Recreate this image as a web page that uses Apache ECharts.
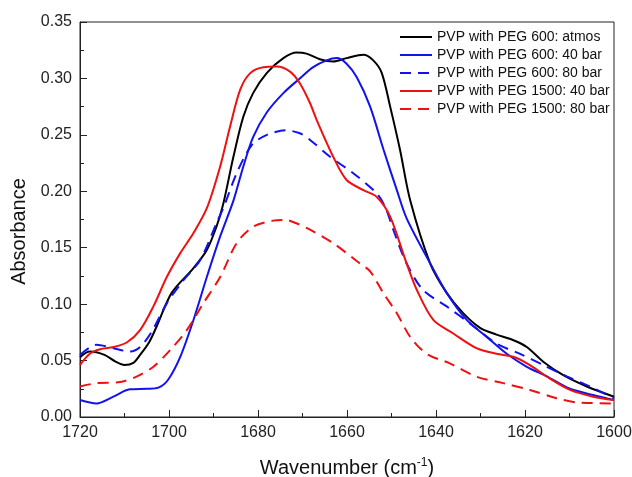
<!DOCTYPE html>
<html>
<head>
<meta charset="utf-8">
<script src="https://cdn.jsdelivr.net/npm/echarts@6/dist/echarts.min.js"></script>
<style>html,body{margin:0;padding:0;background:#fff}#c{width:632px;height:477px}</style>
</head>
<body>
<div id="c"></div>
<script>
var seriesNames = ['PVP with PEG 600: atmos', 'PVP with PEG 600: 40 bar', 'PVP with PEG 600: 80 bar', 'PVP with PEG 1500: 40 bar', 'PVP with PEG 1500: 80 bar'];

var atmosX = [1720,1717.8,1714.5,1712,1710,1708,1706.5,1704.5,1702.8,1699.4,1694.5,1691.5,1689.3,1687.8,1685.5,1683.3,1681.1,1678,1674.3,1671.3,1669.1,1666.1,1663.1,1660.1,1656.3,1654.1,1652.2,1650.3,1648.1,1645.8,1641.3,1637.6,1633.9,1630.1,1626.4,1622.6,1619.6,1615.9,1611.4,1606.1,1600];
var atmosY = [0.053,0.058,0.055,0.049,0.046,0.048,0.055,0.066,0.080,0.110,0.132,0.148,0.169,0.189,0.231,0.266,0.287,0.305,0.318,0.323,0.322,0.317,0.315,0.318,0.321,0.316,0.305,0.275,0.237,0.192,0.136,0.110,0.092,0.079,0.073,0.068,0.062,0.049,0.037,0.027,0.018];

var peg600_40X = [1720,1716.3,1712.5,1708.8,1705,1702.4,1700.2,1697.5,1694.5,1691.5,1688.5,1685.5,1683.3,1681.1,1678,1674.3,1670.6,1667.6,1664.6,1662.3,1660.1,1657.8,1654.8,1651.8,1648.8,1646.6,1641.3,1637.6,1633.1,1628.6,1624.1,1619.6,1615.1,1609.9,1604.7,1600];
var peg600_40Y = [0.015,0.012,0.018,0.0245,0.025,0.026,0.033,0.053,0.086,0.124,0.160,0.192,0.222,0.248,0.270,0.287,0.300,0.310,0.316,0.318,0.313,0.301,0.275,0.237,0.201,0.176,0.136,0.110,0.086,0.071,0.056,0.0445,0.036,0.025,0.0195,0.015];

var peg600_80X = [1720,1716.3,1712.5,1708.8,1706.5,1703.9,1700.5,1696.8,1693,1689.3,1687.6,1684.8,1681.4,1678,1673.8,1670.6,1668.3,1663.8,1658.6,1653.3,1651.3,1649.6,1646.6,1642.9,1637.6,1632.4,1626.4,1621.1,1615.9,1610.6,1605.4,1600];
var peg600_80Y = [0.055,0.064,0.061,0.058,0.062,0.0756,0.1007,0.121,0.139,0.172,0.187,0.216,0.241,0.250,0.254,0.2514,0.2455,0.2306,0.216,0.198,0.185,0.166,0.136,0.1125,0.098,0.083,0.065,0.056,0.046,0.036,0.027,0.0166];

var peg1500_40X = [1720,1717.8,1715.5,1712.5,1709.5,1706.5,1703.5,1700.5,1697.5,1694.5,1691.5,1688.5,1686.3,1684,1681.8,1678.8,1675.8,1672.8,1670.6,1668.3,1666.8,1663.1,1660.1,1656.3,1653.3,1650.3,1646.6,1644.3,1640.6,1636.1,1630.9,1626.4,1622.6,1618.9,1614.4,1609.9,1604.7,1600];
var peg1500_40Y = [0.046,0.056,0.060,0.062,0.066,0.077,0.098,0.124,0.145,0.163,0.185,0.222,0.257,0.290,0.3045,0.310,0.3105,0.306,0.2957,0.278,0.263,0.2306,0.210,0.201,0.195,0.1775,0.136,0.1125,0.086,0.074,0.061,0.056,0.0534,0.046,0.034,0.024,0.018,0.015];

var peg1500_80X = [1720,1716.3,1711,1707.3,1703.5,1699.8,1696,1692.3,1688.5,1684.8,1681.1,1676.6,1673.9,1671,1668.3,1663.1,1657.1,1654.8,1651.8,1648.8,1645.8,1642.1,1636.9,1630.9,1624.9,1618.9,1612.9,1608.4,1600];
var peg1500_80Y = [0.027,0.030,0.031,0.0357,0.0446,0.059,0.077,0.1007,0.124,0.154,0.1686,0.174,0.1746,0.171,0.166,0.154,0.136,0.129,0.1096,0.092,0.071,0.056,0.0475,0.0357,0.030,0.024,0.0166,0.013,0.012];

var xTicks = [1600, 1620, 1640, 1660, 1680, 1700, 1720];
var yTicks = [0.00, 0.05, 0.10, 0.15, 0.20, 0.25, 0.30, 0.35];

function pairs(xs, ys) { return xs.map(function (x, i) { return [x, ys[i]]; }); }

var colors = ['#000000', '#1212ee', '#1212ee', '#ee1111', '#ee1111'];
var dashed = [false, false, true, false, true];
var allData = [pairs(atmosX, atmosY), pairs(peg600_40X, peg600_40Y), pairs(peg600_80X, peg600_80Y), pairs(peg1500_40X, peg1500_40Y), pairs(peg1500_80X, peg1500_80Y)];
function dashType(i) { return dashed[i] ? [11, 7] : 'solid'; }

var font = 'Liberation Sans, Arial, sans-serif';
var chart = echarts.init(document.getElementById('c'), null, { renderer: 'canvas' });
chart.setOption({
  animation: false,
  backgroundColor: '#fff',
  grid: { left: 80, right: 18, top: 22, bottom: 60, containLabel: false, outerBoundsMode: 'none', show: true, borderColor: '#222', borderWidth: 1, backgroundColor: 'transparent' },
  legend: {
    data: seriesNames.map(function (n, i) {
      return { name: n, itemStyle: { opacity: 0 }, lineStyle: { color: colors[i], width: 2, type: dashType(i) } };
    }),
    orient: 'vertical',
    left: 394,
    top: 25,
    itemWidth: 32,
    itemHeight: 14,
    itemGap: 4,
    textStyle: { fontFamily: font, fontSize: 14, color: '#111' }
  },
  xAxis: {
    type: 'value',
    inverse: true,
    min: 1600, max: 1720, interval: 20,
    name: 'Wavenumber (cm{sup|-1})',
    nameLocation: 'middle',
    nameGap: 40,
    nameTextStyle: { fontFamily: font, fontSize: 20, color: '#111', rich: { sup: { fontFamily: font, fontSize: 12, color: '#111', padding: [0, 0, 10, 0] } } },
    axisLine: { show: true, lineStyle: { color: '#222', width: 1 } },
    axisTick: { show: true, inside: true, length: 7, lineStyle: { color: '#222' } },
    minorTick: { show: true, splitNumber: 2, length: 4, lineStyle: { color: '#222' } },
    splitLine: { show: false },
    axisLabel: { fontFamily: font, fontSize: 16, color: '#222', margin: 8, formatter: function (v) { return xTicks.indexOf(v) >= 0 ? String(v) : ''; } }
  },
  yAxis: {
    type: 'value',
    min: 0, max: 0.35, interval: 0.05,
    name: 'Absorbance',
    nameLocation: 'middle',
    nameGap: 50,
    nameTextStyle: { fontFamily: font, fontSize: 20, color: '#111', padding: [0, 24, 0, 0] },
    axisLine: { show: true, lineStyle: { color: '#222', width: 1 } },
    axisTick: { show: true, inside: true, length: 7, lineStyle: { color: '#222' } },
    minorTick: { show: true, splitNumber: 2, length: 4, lineStyle: { color: '#222' } },
    splitLine: { show: false },
    axisLabel: { fontFamily: font, fontSize: 16, color: '#222', margin: 8, formatter: function (v) { var s = v.toFixed(2); return yTicks.map(function (t) { return t.toFixed(2); }).indexOf(s) >= 0 ? s : ''; } }
  },
  series: seriesNames.map(function (name, i) {
    return {
      name: name,
      type: 'line',
      data: allData[i],
      smooth: 0.3,
      symbol: 'none',
      color: colors[i],
      lineStyle: { color: colors[i], width: 2, type: dashType(i) }
    };
  })
});
</script>
</body>
</html>
